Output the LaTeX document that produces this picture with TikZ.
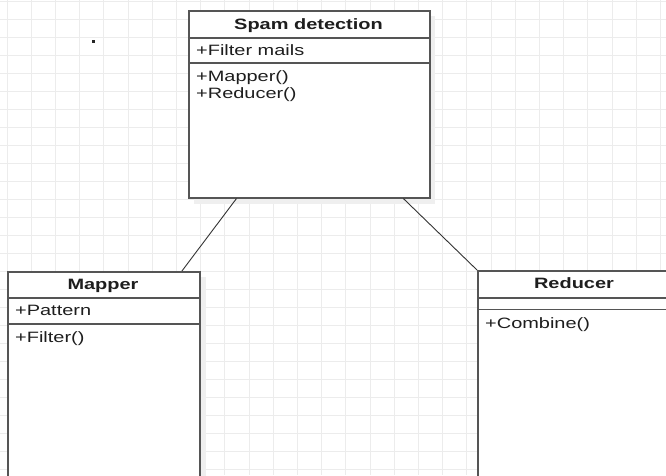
\documentclass[tikz,border=0pt]{standalone}
\usepackage{fontspec}
\newfontfamily\umlfont[FakeStretch=1.33]{Liberation Sans}
\usetikzlibrary{calc}
\definecolor{gridc}{HTML}{ECECEC}
\definecolor{edgec}{HTML}{555555}
\definecolor{shadc}{HTML}{EFEFEF}
\definecolor{txtc}{HTML}{1E1E1E}
\tikzset{
  umlbox/.style={draw=edgec, line width=1.5pt, fill=white, rectangle, inner sep=0pt, anchor=north west},
  sepline/.style={draw=edgec, line width=1.3pt},
  umltitle/.style={font=\umlfont\fontsize{15}{16.7}\selectfont\bfseries, text=txtc, anchor=base, inner sep=0pt},
  umltext/.style={font=\umlfont\fontsize{15}{16.7}\selectfont, text=txtc, anchor=base west, inner sep=0pt},
  link/.style={draw=black!80, line width=0.9pt},
  shad/.style={fill=shadc, draw=none}
}
\begin{document}
\begin{tikzpicture}[x=1pt, y=-1pt]
\clip (0,0) rectangle (666,475);
\fill[white] (0,0) rectangle (666,475);
% grid
\foreach \i in {0,...,27} { \draw[gridc, line width=1pt] ({7+24.2*\i},0) -- ({7+24.2*\i},475); }
\foreach \j in {0,...,26} { \draw[gridc, line width=1pt] (0,{1+18*\j}) -- (666,{1+18*\j}); }
% stray dot
\fill[black!85] (91.5,40) rectangle (95,42.5);
% shadows
\fill[shad] (194,16) rectangle (435,204);
\fill[shad] (13,277) rectangle (206,490);
\fill[shad] (483,276) rectangle (680,490);
% Spam detection
\node[umlbox, minimum width=241pt, minimum height=187pt] (spam) at (188,10) {};
\draw[sepline] (188,38) -- (429,38);
\draw[sepline] (188,63) -- (429,63);
\node[umltitle] (spamt) at (308.5,29.5) {Spam detection};
\node[umltext] (spama) at (196,55) {+Filter mails};
\node[umltext] (spamm1) at (196,81.5) {+Mapper()};
\node[umltext] (spamm2) at (196,98) {+Reducer()};
% Mapper
\node[umlbox, minimum width=192pt, minimum height=220pt] (mapper) at (7,271) {};
\draw[sepline] (7,298) -- (199,298);
\draw[sepline] (7,324) -- (199,324);
\node[umltitle] (mappert) at (103,289) {Mapper};
\node[umltext] (mappera) at (15,315.5) {+Pattern};
\node[umltext] (mapperm) at (15,342.5) {+Filter()};
% Reducer
\node[umlbox, minimum width=194pt, minimum height=220pt] (reducer) at (477,270) {};
\draw[sepline] (477,298) -- (671,298);
\draw[sepline] (477,309.5) -- (671,309.5);
\node[umltitle] (reducert) at (574,288.5) {Reducer};
\node[umltext] (reducerm) at (485,328.5) {+Combine()};
% connectors
\draw[link] ($(spam.south west)!0.2!(spam.south east)$) -- ($(mapper.north west)!0.904!(mapper.north east)$);
\draw[link] ($(spam.south west)!0.888!(spam.south east)$) -- (reducer.north west);
\end{tikzpicture}
\end{document}
